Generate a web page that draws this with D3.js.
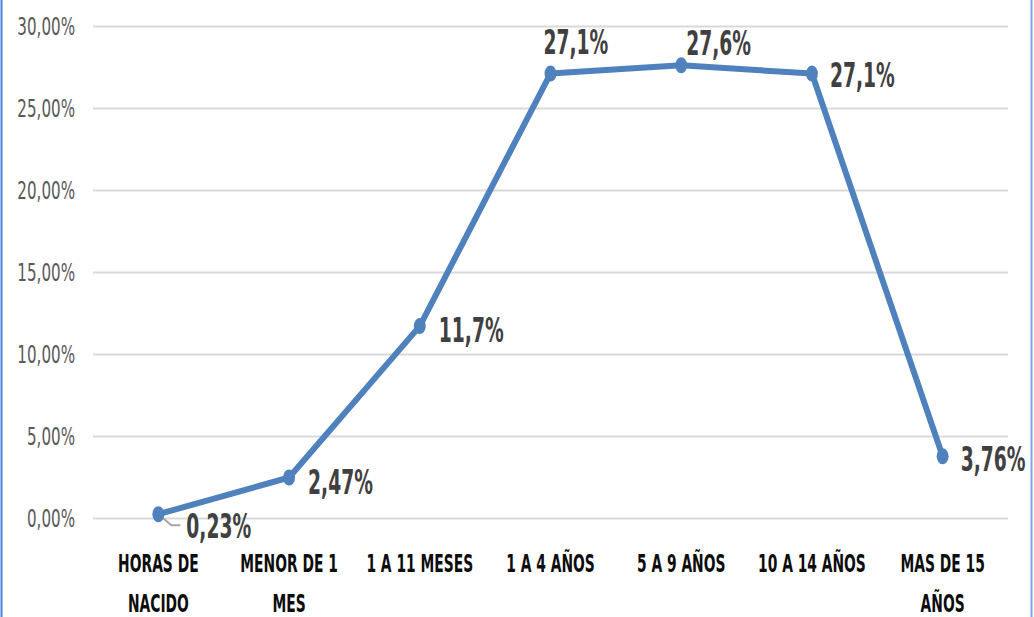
<!DOCTYPE html>
<html><head><meta charset="utf-8">
<script src="https://cdn.jsdelivr.net/npm/d3@7"></script>
<style>
html,body{margin:0;padding:0;background:#fff;}
svg{display:block;}
</style></head>
<body>
<svg id="chart" width="1034" height="617"></svg>
<script>
// ---- data ----
const categories = [["HORAS DE","NACIDO"],["MENOR DE 1","MES"],["1 A 11 MESES"],["1 A 4 AÑOS"],["5 A 9 AÑOS"],["10 A 14 AÑOS"],["MAS DE 15","AÑOS"]];
const values = [0.23, 2.47, 11.7, 27.1, 27.6, 27.1, 3.76];
const valueLabels = ["0,23%","2,47%","11,7%","27,1%","27,6%","27,1%","3,76%"];
const yTicks = [0,5,10,15,20,25,30];
const yTickLabels = ["0,00%","5,00%","10,00%","15,00%","20,00%","25,00%","30,00%"];
// label placement (offsets from the point, px)
const labelDx = [28, 19, 19, -7, 5, 18, 18];
const labelDy = [11, 4, 3, -32, -23, 1, 2];

(function(){
const svg = d3.select("#chart");
const W = 1034, H = 617;
const pL = 93, pR = 1008, pT = 26, pB = 518;
const fontFam = "'DejaVu Sans Condensed',sans-serif";

const x = d3.scaleBand().domain(d3.range(categories.length)).range([pL, pR]);
const y = d3.scaleLinear().domain([0, 30]).range([pB, pT]);
const cx = i => x(i) + x.bandwidth()/2;

// border
svg.append("line").attr("x1",1.5).attr("x2",1.5).attr("y1",0).attr("y2",H).attr("stroke","#4a7fd8").attr("stroke-width",2);
svg.append("line").attr("x1",1031.5).attr("x2",1031.5).attr("y1",0).attr("y2",H).attr("stroke","#7ea6e6").attr("stroke-width",2);

// gridlines
const yAxis = d3.axisLeft(y).tickValues(yTicks).tickSize(-(pR-pL)).tickFormat((d,i)=>yTickLabels[i]);
const gy = svg.append("g").attr("transform",`translate(${pL},0)`).call(yAxis);
gy.select(".domain").remove();
gy.selectAll(".tick line").attr("stroke","#d9d9d9").attr("stroke-width",2);
gy.selectAll(".tick text").remove();
// y tick labels (condensed, vertically stretched)
yTicks.forEach((t,i)=>{
  svg.append("text")
    .attr("transform",`translate(75,${y(t)}) scale(0.82,1.22)`)
    .attr("text-anchor","end").attr("dy","0.36em")
    .attr("font-family",fontFam).attr("font-size",20.5).attr("fill","#595959")
    .text(yTickLabels[i]);
});

// x labels
categories.forEach((lines,i)=>{
  lines.forEach((ln,j)=>{
    svg.append("text")
      .attr("transform",`translate(${cx(i)},${563 + j*40}) scale(0.88,1.4)`)
      .attr("text-anchor","middle").attr("dy","0.36em")
      .attr("font-family",fontFam).attr("font-weight","bold").attr("font-size",17.5).attr("fill","#0d0d0d")
      .text(ln);
  });
});

// leader line for first label
svg.append("polyline")
  .attr("points",`${cx(0)},${y(values[0])} ${cx(0)+13},${y(values[0])+11} ${cx(0)+22},${y(values[0])+11}`)
  .attr("fill","none").attr("stroke","#a6a6a6").attr("stroke-width",2);

// line
const line = d3.line().x((d,i)=>cx(i)).y(d=>y(d));
svg.append("path").datum(values).attr("d",line)
  .attr("fill","none").attr("stroke","#4f81bd").attr("stroke-width",6).attr("stroke-linejoin","round");
svg.selectAll("ellipse.m").data(values).enter().append("ellipse")
  .attr("cx",(d,i)=>cx(i)).attr("cy",d=>y(d)).attr("rx",6).attr("ry",8).attr("fill","#4f81bd");

// value labels
values.forEach((v,i)=>{
  svg.append("text")
    .attr("transform",`translate(${cx(i)+labelDx[i]},${y(v)+labelDy[i]}) scale(0.77,1.28)`)
    .attr("dy","0.36em")
    .attr("font-family",fontFam).attr("font-weight","bold").attr("font-size",27).attr("fill","#404040")
    .text(valueLabels[i]);
});
})();
</script>
</body></html>
